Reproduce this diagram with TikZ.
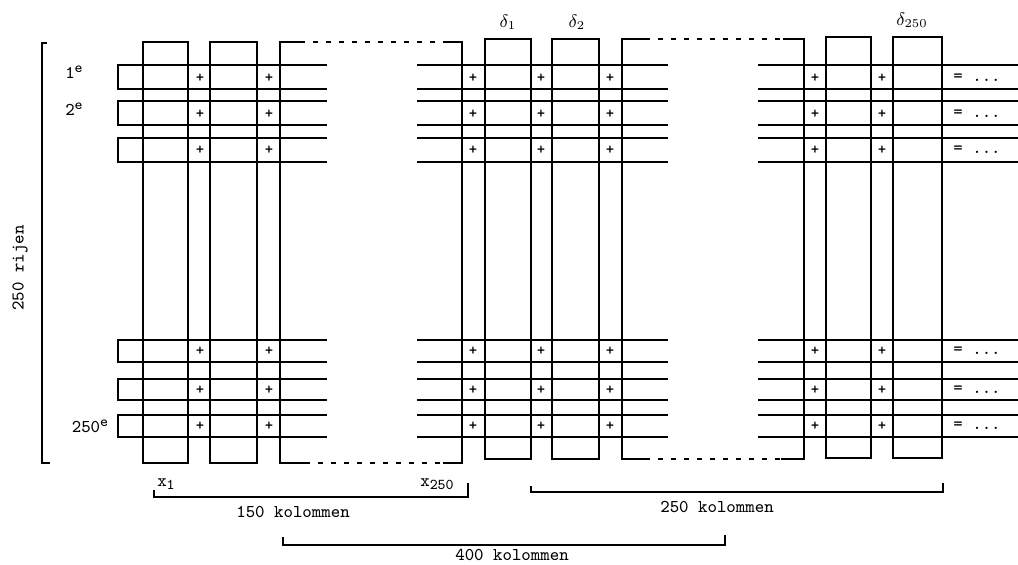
\documentclass[tikz,border=0pt]{standalone}
\usetikzlibrary{positioning}
\newcommand{\upidx}[1]{\raisebox{0.75ex}{\fontsize{7.5}{8}\selectfont #1}}
\newcommand{\dnidx}[1]{\raisebox{-0.4ex}{\fontsize{7.5}{8}\selectfont #1}}
\begin{document}
\begin{tikzpicture}[
  x=0.5pt, y=-0.5pt,
  bar/.style={line width=0.9pt},
  gapline/.style={line width=0.9pt, dash pattern=on 2.5pt off 4pt},
  txt/.style={font=\ttfamily\fontsize{9}{11}\selectfont, inner sep=0pt},
  plus/.style={font=\ttfamily\bfseries\fontsize{8}{9}\selectfont, inner sep=0pt}
]
\useasboundingbox (0,0) rectangle (1018,564);

% Rows bracket
\draw[bar] (47,43) -| (42,463) -- (50,463);
\node[txt, rotate=90] (rijen) at (20,268) {250 rijen};

% Narrow columns
\foreach \a/\b/\t/\u in {143/188/42/463, 210/257/42/463, 485/531/39/459,
                         552/599/39/459, 826/871/37/458, 893/942/37/458}
  \draw[bar] (\a,\u) rectangle (\b,\t);

% Wide columns (many columns left out)
\draw[bar] (300,42) -- (280,42) -- (280,463) -- (305,463);
\draw[bar] (445,42) -- (462,42) -- (462,463) -- (443,463);
\draw[gapline] (300,42) -- (445,42) (305,463) -- (443,463);
\draw[bar] (645,39) -- (622,39) -- (622,459) -- (645,459);
\draw[bar] (783,39) -- (804,39) -- (804,459) -- (781,459);
\draw[gapline] (645,39) -- (783,39) (645,459) -- (781,459);

% Rows
\foreach \t/\u in {65/89, 101/125, 138/162, 340/362, 379/400, 415/437} {
  \draw[bar] (327,\t) -| (118,\u) -- (327,\u);
  \draw[bar] (417,\t) -- (668,\t) (417,\u) -- (668,\u);
  \draw[bar] (758,\t) -- (1018,\t) (758,\u) -- (1018,\u);
}

% Sums per row
\foreach \y in {78, 114, 150, 351, 390, 426} {
  \foreach \x in {200, 269, 473, 541, 610, 815, 882}
    \node[plus] (p-\x-\y) at (\x,\y) {+};
  \node[txt, anchor=west] (s-\y) at (953,\y) {= ...};
}

% Column labels
\node[txt] (d1) at (508,22) {$\delta_1$};
\node[txt] (d2) at (577,22) {$\delta_2$};
\node[txt] (d250) at (912,20) {$\delta_{250}$};

% Row labels
\node[txt] (r1) at (74,72) {1\upidx{e}};
\node[txt] (r2) at (74,109) {2\upidx{e}};
\node[txt] (r250) at (90,426) {250\upidx{e}};

% Column counts
\node[txt] (x1) at (166,484) {x\dnidx{1}};
\node[txt] (x250) at (437,484) {x\dnidx{250}};
\draw[bar] (154,490) -- (154,497) -- (468,497) -- (468,483);
\node[txt] (k150) at (293,512) {150 kolommen};
\draw[bar] (531,486) -- (531,492) -- (943,492) -- (943,483);
\node[txt] (k250) at (717,507) {250 kolommen};
\draw[bar] (283,537) -- (283,545) -- (725,545) -- (725,535);
\node[txt] (k400) at (512,555) {400 kolommen};
\end{tikzpicture}
\end{document}
